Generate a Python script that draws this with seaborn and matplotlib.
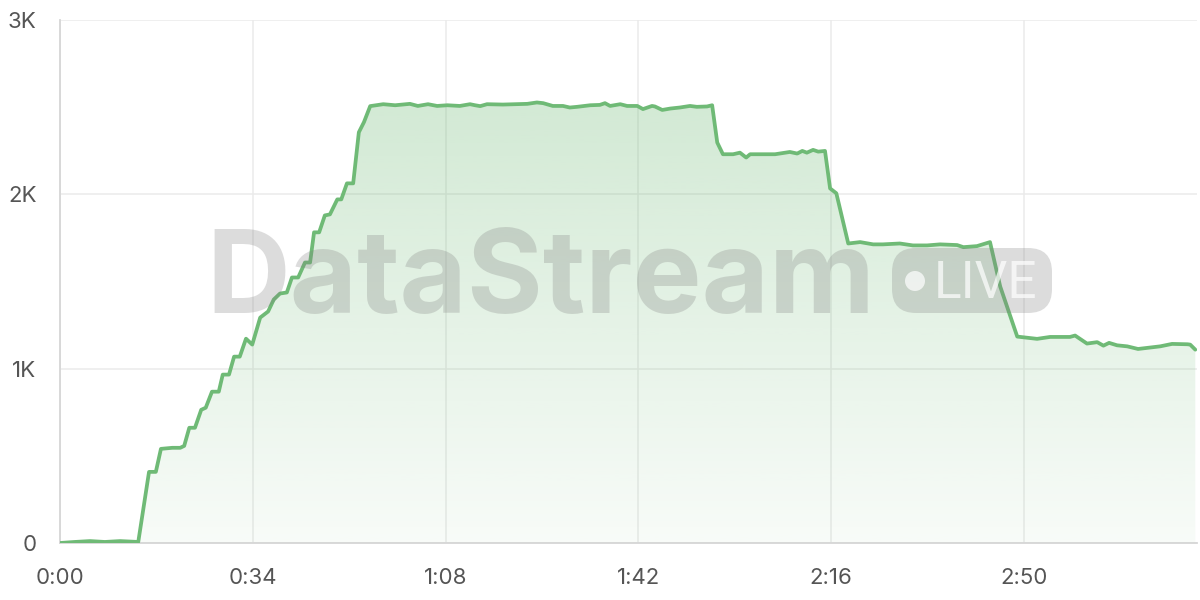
import numpy as np
import pandas as pd
import matplotlib
matplotlib.use("Agg")
import matplotlib.pyplot as plt
from matplotlib.patches import FancyBboxPatch, Circle
import seaborn as sns

# ---- data (seconds, value) ----
times = [0.0, 2.6, 5.3, 7.9, 10.6, 13.8, 15.7, 16.9, 17.8, 19.8, 21.2, 21.9, 22.8, 23.8,
         24.9, 25.7, 26.8, 28.0, 28.7, 29.8, 30.7, 31.7, 32.8, 33.9, 35.3, 36.7, 37.7,
         38.8, 40.0, 40.9, 42.0, 43.2, 44.1, 44.8, 45.7, 46.7, 47.6, 48.9, 49.6, 50.6,
         51.7, 52.7, 53.6, 54.7, 57.0, 59.1, 61.7, 63.1, 64.9, 66.5, 68.3, 70.5, 72.3,
         73.2, 74.1, 75.3, 78.1, 80.6, 82.4, 84.1, 85.2, 86.9, 88.7, 89.9, 91.2, 93.5,
         95.2, 96.1, 97.0, 98.8, 100.0, 101.8, 102.8, 104.4, 104.9, 106.2, 107.6, 109.3,
         111.1, 112.3, 114.1, 115.0, 115.9, 116.9, 118.7, 119.9, 121.0, 121.7, 126.1,
         128.7, 130.0, 130.9, 131.7, 132.8, 133.7, 134.9, 135.8, 136.9, 139.0, 141.1,
         143.4, 145.1, 148.1, 150.4, 152.9, 155.2, 158.2, 159.3, 161.7, 164.0, 165.8,
         168.8, 172.3, 174.6, 178.1, 179.0, 181.1, 182.9, 184.0, 185.0, 186.4, 188.2,
         190.1, 194.0, 196.1, 198.8, 199.3, 200.2]
values = [0, 6, 11, 6, 11, 6, 408, 408, 540, 546, 546, 557, 661, 661,
          764, 776, 868, 868, 966, 966, 1069, 1069, 1172, 1138, 1293, 1328, 1397,
          1431, 1437, 1523, 1523, 1609, 1609, 1782, 1782, 1879, 1885, 1971, 1971, 2063,
          2063, 2356, 2414, 2506, 2517, 2511, 2519, 2507, 2517, 2507, 2511, 2507, 2517,
          2511, 2506, 2517, 2515, 2517, 2519, 2527, 2523, 2507, 2507, 2498, 2502, 2511,
          2513, 2523, 2507, 2517, 2507, 2507, 2489, 2507, 2504, 2484, 2492, 2498,
          2507, 2502, 2504, 2511, 2297, 2230, 2230, 2239, 2211, 2230, 2230,
          2243, 2234, 2249, 2239, 2255, 2245, 2249, 2034, 2006, 1718, 1726,
          1713, 1713, 1718, 1707, 1707, 1713, 1709, 1697, 1703, 1726, 1471,
          1184, 1171, 1182, 1182, 1190, 1144, 1152, 1132, 1148, 1134, 1128,
          1113, 1128, 1142, 1140, 1138, 1109]

x_ticks = [0, 34, 68, 102, 136, 170]
x_tick_labels = ["0:00", "0:34", "1:08", "1:42", "2:16", "2:50"]
y_ticks = [0, 1000, 2000, 3000]
y_tick_labels = ["0", "1K", "2K", "3K"]

LINE = "#6fba76"
GRID = "#ebebeb"
AXIS = "#d6d6d6"
TXT = "#555555"

sns.set_style("white")
plt.rcParams["font.family"] = ["Inter", "DejaVu Sans"]

df = pd.DataFrame({"t": times, "v": values})

fig = plt.figure(figsize=(12, 6), dpi=100)
ax = fig.add_axes([60 / 1200, 57 / 600, 1137 / 1200, 523 / 600])

XMAX, YMAX = 200.5, 3000

# gradient fill under the line
poly = ax.fill_between(df["t"], df["v"], 0, color="none", linewidth=0)
vmax = max(values)
n = 256
rgb = np.array(matplotlib.colors.to_rgb(LINE))
grad = np.zeros((n, 1, 4))
grad[:, 0, :3] = rgb
grad[:, 0, 3] = np.linspace(0.05, 0.31, n)
im = ax.imshow(grad, extent=[0, XMAX, 0, vmax], origin="lower", aspect="auto",
               zorder=1, interpolation="bilinear")
im.set_clip_path(poly.get_paths()[0], ax.transData)

sns.lineplot(data=df, x="t", y="v", ax=ax, color=LINE, linewidth=2.7, zorder=4)

ax.set_xlim(0, XMAX)
ax.set_ylim(0, YMAX)
ax.set_xticks(x_ticks)
ax.set_xticklabels(x_tick_labels)
ax.set_yticks(y_ticks)
ax.set_yticklabels(y_tick_labels)
ax.set_xlabel("")
ax.set_ylabel("")
ax.grid(True, color=GRID, linewidth=1.1, zorder=0)
ax.set_axisbelow(True)
for s in ["top", "right"]:
    ax.spines[s].set_visible(False)
for s in ["left", "bottom"]:
    ax.spines[s].set_color(AXIS)
    ax.spines[s].set_linewidth(1.3)
ax.tick_params(axis="both", length=12, width=1.1, color=GRID, labelcolor=TXT,
               labelsize=16, pad=5)
ax.tick_params(axis="x", pad=6)

# watermark
fig.text(206 / 1200, 1 - 313 / 600, "DataStream", fontsize=83.5, fontweight="bold",
         family="Inter", color="#7f7f7f", alpha=0.27, ha="left", va="baseline",
         zorder=3)
badge = FancyBboxPatch((892, 600 - 313), 160, 65,
                       boxstyle="round,pad=0,rounding_size=24",
                       transform=None, facecolor="#7f7f7f", alpha=0.27,
                       edgecolor="none", zorder=3)
fig.patches.append(badge)
fig.patches.append(Circle((915, 600 - 281), 10, transform=None, facecolor="white",
                          alpha=0.7, edgecolor="none", zorder=3))
fig.text(934 / 1200, 1 - 298 / 600, "LIVE", fontsize=37, family="Roboto",
         color="white", alpha=0.7, ha="left", va="baseline", zorder=3)

fig.savefig("out.png", dpi=100, facecolor="white")
